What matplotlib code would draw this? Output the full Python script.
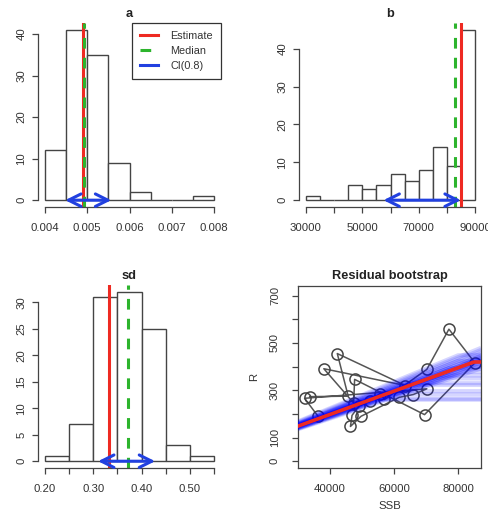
import numpy as np
import matplotlib
matplotlib.use("Agg")
import matplotlib.pyplot as plt

plt.rcParams['font.family'] = ['Liberation Sans', 'DejaVu Sans']

# ---- data ----
a_breaks = [0.004, 0.0045, 0.005, 0.0055, 0.006, 0.0065, 0.007, 0.0075, 0.008]
a_counts = [12, 41, 35, 9, 2, 0, 0, 1]
a_est, a_med, a_ci = 0.00491, 0.00493, (0.00448, 0.00557)

b_breaks = [30000, 35000, 40000, 45000, 50000, 55000, 60000, 65000,
            70000, 75000, 80000, 85000, 90000]
b_counts = [1, 0, 0, 4, 3, 4, 7, 5, 8, 14, 9, 45]
b_est, b_med, b_ci = 84900, 82800, (57500, 84900)

sd_breaks = [0.20, 0.25, 0.30, 0.35, 0.40, 0.45, 0.50, 0.55]
sd_counts = [1, 7, 31, 32, 25, 3, 1]
sd_est, sd_med, sd_ci = 0.332, 0.371, (0.310, 0.428)

ssb_obs = [33700, 45700, 42300, 63500, 38100, 47400, 47700, 69500, 85200,
           77100, 70200, 57000, 55700, 52400, 49000, 46900, 46400, 49700,
           61600, 66000, 70200, 32100, 36300]
rec_obs = [273, 275, 455, 320, 391, 246, 346, 197, 416,
           558, 388, 261, 286, 253, 232, 194, 147, 190,
           270, 282, 306, 266, 190]

# bootstrap hockey-stick fits (slope a, breakpoint b)
boot_a = [0.0046, 0.0048, 0.0049, 0.0050, 0.0051, 0.0052, 0.0053, 0.0055,
          0.0045, 0.0047, 0.0050, 0.0049, 0.0048, 0.0051, 0.0054, 0.0050,
          0.0048, 0.0050, 0.0047, 0.0052, 0.0050, 0.0049, 0.0051, 0.0046,
          0.0053, 0.0049, 0.0056, 0.0052, 0.0050, 0.0047]
boot_b = [90000, 90000, 90000, 90000, 90000, 90000, 90000, 90000,
          90000, 90000, 90000, 90000, 90000, 90000, 90000, 86000,
          55000, 56500, 63000, 62000, 70000, 74000, 77000, 82000,
          80000, 84000, 80000, 50000, 66000, 85000]

fit_a, fit_b = 0.00494, 84900

COL_EST = '#ee2a22'
COL_MED = '#2db42d'
COL_CI = '#2140e0'
AX_COL = '#444444'

W, H = 488, 521
fig = plt.figure(figsize=(W / 100, H / 100), dpi=100)


def rect(x0, y0, x1, y1):
    return [x0 / W, 1 - y1 / H, (x1 - x0) / W, (y1 - y0) / H]


def style_axes(ax, xt, xl, yt, yl, box=False, ypad=4.3):
    for s in ['top', 'right']:
        ax.spines[s].set_visible(box)
    for s in ax.spines.values():
        s.set_color(AX_COL)
        s.set_linewidth(0.9)
    if not box:
        ax.spines['left'].set_bounds(yt[0], yt[-1])
        ax.spines['bottom'].set_bounds(xt[0], xt[-1])
    ax.set_xticks(xt, xl)
    ax.set_yticks(yt, yl)
    ax.tick_params(direction='out', length=4, width=0.9, color=AX_COL,
                   labelcolor='#333333', labelsize=8.2)
    ax.tick_params(axis='x', pad=7.5)
    ax.tick_params(axis='y', pad=ypad)
    for t in ax.get_yticklabels():
        t.set_rotation(90)
        t.set_va('center')
        t.set_ha('right')


def hist_panel(ax, breaks, counts, est, med, ci, title, xt, xl, yt, yl):
    breaks = np.array(breaks)
    widths = np.diff(breaks)
    ax.bar(breaks[:-1], counts, width=widths, align='edge', color='white',
           edgecolor='#444444', linewidth=1.0)
    span = breaks[-1] - breaks[0]
    ax.set_xlim(breaks[0] - 0.04 * span, breaks[-1] + 0.04 * span)
    top = max(counts)
    ax.set_ylim(-0.04 * top, 1.04 * top)
    ax.axvline(est, color=COL_EST, lw=2.2, label='Estimate')
    ax.axvline(med, color=COL_MED, lw=2.2, ls=(0, (3.5, 3.0)), label='Median')
    ax.plot([], [], color=COL_CI, lw=2.2, label='CI(0.8)')
    ax.annotate('', xy=(ci[1], 0), xytext=(ci[0], 0),
                arrowprops=dict(arrowstyle='<->,head_length=0.9,head_width=0.45',
                                color=COL_CI, lw=2.2, shrinkA=0, shrinkB=0))
    ax.set_title(title, fontsize=9.2, fontweight='bold', pad=4.5, color='#222222')
    style_axes(ax, xt, xl, yt, yl)


# panel a
ax1 = fig.add_axes(rect(38, 23, 221, 207))
hist_panel(ax1, a_breaks, a_counts, a_est, a_med, a_ci, 'a',
           [0.004, 0.005, 0.006, 0.007, 0.008],
           ['0.004', '0.005', '0.006', '0.007', '0.008'],
           [0, 10, 20, 30, 40], ['0', '10', '20', '30', '40'])
leg = ax1.legend(loc='upper right', borderaxespad=0, fancybox=False,
                 edgecolor='#333333', framealpha=1, fontsize=7.8,
                 handlelength=1.7, handletextpad=1.1, borderpad=0.75,
                 labelspacing=0.45, labelcolor='#333333')
leg.get_frame().set_linewidth(0.9)

# panel b
ax2 = fig.add_axes(rect(299, 23, 482, 207))
hist_panel(ax2, b_breaks, b_counts, b_est, b_med, b_ci, 'b',
           [30000, 40000, 50000, 60000, 70000, 80000, 90000],
           ['30000', '', '50000', '', '70000', '', '90000'],
           [0, 10, 20, 30, 40], ['0', '10', '20', '30', '40'])

# panel sd
ax3 = fig.add_axes(rect(38, 285, 221, 468))
hist_panel(ax3, sd_breaks, sd_counts, sd_est, sd_med, sd_ci, 'sd',
           [0.20, 0.25, 0.30, 0.35, 0.40, 0.45, 0.50, 0.55],
           ['0.20', '', '0.30', '', '0.40', '', '0.50', ''],
           [0, 5, 10, 15, 20, 25, 30], ['0', '5', '10', '15', '20', '25', '30'])

# residual bootstrap panel
ax4 = fig.add_axes(rect(298, 286, 481, 468))
ax4.plot(ssb_obs, rec_obs, '-', color='#555555', lw=1.1, zorder=2)
ax4.plot(ssb_obs, rec_obs, 'o', ms=8, mfc='none', mec='#444444', mew=1.1, zorder=3)
xlo, xhi = 30050, 87100
xs = np.linspace(xlo, xhi, 200)
for a, b in zip(boot_a, boot_b):
    ax4.plot(xs, a * np.minimum(xs, b), color='blue', lw=3, alpha=0.16,
             solid_capstyle='butt', zorder=4)
ax4.plot(xs, fit_a * np.minimum(xs, fit_b), color=COL_EST, lw=2.6, zorder=5)
ax4.set_xlim(xlo, xhi)
ax4.set_ylim(-28.5, 740.5)
style_axes(ax4, [40000, 60000, 80000], ['40000', '60000', '80000'],
           [0, 100, 200, 300, 400, 500, 600, 700],
           ['0', '100', '', '300', '', '500', '', '700'], box=True, ypad=9)
ax4.set_title('Residual bootstrap', fontsize=9.2, fontweight='bold', pad=5,
              color='#222222')
ax4.set_xlabel('SSB', fontsize=8.2, color='#333333', labelpad=5)
ax4.set_ylabel('R', fontsize=8.2, color='#333333', labelpad=8)

fig.savefig('out.png', dpi=100)
